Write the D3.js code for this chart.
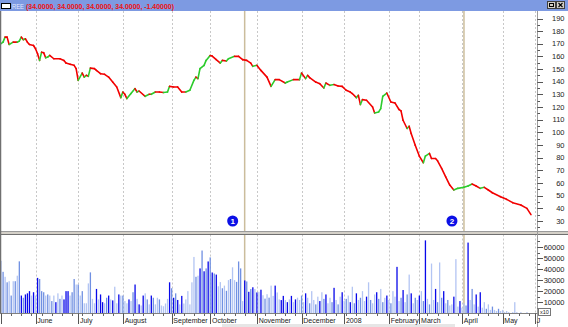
<!DOCTYPE html>
<html>
<head>
<script src="https://cdnjs.cloudflare.com/ajax/libs/d3/7.8.5/d3.min.js"></script>
<style>
  body { margin: 0; background: #fff; }
  svg text { font-family: "Liberation Sans", Arial, sans-serif; }
</style>
</head>
<body>
<div id="vis"></div>
<script>
// trading-day index of each read-off close, and the close itself
const priceDay = [0,1,2,3,4,6,8,9,10,11,12,13,14,16,17,18,19,20,21,22,23,24,26,29,31,32,34,36,37,38,40,41,42,43,44,46,47,49,51,53,55,57,59,60,61,62,64,66,67,68,71,73,74,76,78,80,82,83,85,87,89,91,93,95,96,97,98,100,101,103,104,106,108,109,111,112,115,117,119,121,123,124,126,128,131,133,135,137,140,141,144,147,148,150,151,152,155,157,159,160,162,164,166,168,170,172,173,175,176,177,178,180,183,184,186,187,188,190,192,194,196,197,198,200,201,202,204,206,208,209,211,212,214,215,217,219,221,223,225,228,230,232,234,236,238,240,242,246,249,252,256,259,261];
const priceClose = [170.1,171.3,175.3,175.3,169.5,171.3,171.3,172.1,175.3,173.2,174,171.3,169.5,168.7,166.1,162.2,156.9,163.4,163,159,159.5,160.8,158.2,158.2,156.9,154.8,153.8,153,150.4,141.1,146.9,143.7,145.1,144.3,150.8,150.4,149,146.4,145.9,143.7,139.8,135.9,127.5,131.9,130.1,126.7,130.7,134.6,131.9,132.7,128.5,130.1,130.1,131.9,131.9,131.5,131.9,136.4,135.9,135.9,131.9,131.9,133.3,141.1,143.7,142.5,150.4,153,156.9,160.8,160.3,157.5,154.8,156.9,156.4,158.2,160.1,160.1,157.5,156.9,154.8,152.2,153,149,143.7,136.4,141.7,141.7,139,139.8,141.7,141.7,146.9,142.5,145.1,143.3,139.8,138.5,135.1,139,137.2,137.8,136.7,136.4,133.3,131.9,130.7,127.5,129.3,122,125.9,125.4,120.1,115.4,116.2,118.8,128.5,131.1,124,123.3,118.1,117,109.6,103.1,104.9,99.1,89.9,81.3,76,81.3,83.4,79.4,79.4,77.6,71.6,64.9,58.4,54.5,55.8,56.6,57.6,59.2,57.6,55.8,56.6,54.5,52.3,49.2,47.1,44.5,42.6,40,35];

// daily volume in thousands, one per trading day
const volumeK = [
  47.5,37.5,33,28,29,16,29,29,34,47,
  16,14,17,18,20,16,19,16,32,31,
  20,19,16,17,16,11,16,10,18,13,
  16,12.5,20,20,16,19,31,26,26,16,
  20,9,9,27,37,13,9,22,12.5,17,
  10,9,14,16,12.5,11.6,24,9,17,16,
  16,11,9,12.5,11,19,26,13,8,7,
  16,18,12.5,8,16,14,8,
  14,12.5,7,6.3,8.8,13,28,22.6,14,18,
  12,8,15.7,8.8,12.5,20,8,28,51,33,
  34,40.6,56.8,38,40.6,46.9,50.6,36.9,36,35,
  24.4,28.2,22.6,25,20.3,30,31,41.6,30,28.4,
  46.9,40.6,11,29.7,28.8,19.4,21.9,23.5,21.9,18.8,
  19.4,21.3,16.3,13.2,17.2,14.1,25,15.7,25,18.8,
  12.5,11.9,15.7,11.9,10,12.5,15.7,10,12.5,14.1,
  12,16,10,18,14,9,20,12,8,15,
  11,19,13,17,9,14,10,23,12,8,
  15,19,11,13,16,10,24,9,18,12,
  14,20,11,15,28,12,9,17,19,13,
  22,10,14,16,12,9,20,15,42,11,
  14,21,10,17,35,18,9,14,12,16,
  20,11,66,13,8,45,12,22,10,46,
  14,20,9,12,7,8,15,49,6,11,
  5,9,7,64,12,22,8,17,6,19,
  5,10,4,8,3,6,3,2,4,2,
  3,1,2,1,0,1,10,1,0,1,
  0,0,1,0,0
];
// L = light, M = medium, D = dark blue bar
const volumeShade = [
  "LMLMLMLMLM","DMDDDLDLDM","MMLMLMLDLM","LDDDLMMLML","MLLLMLLDLD",
  "DLMDLDLLDL","MLLDLMDLDL","DLMLDML",
  "LMLLLLDMDM","DLDLLLLLLM","LDMDMDMDMD","LLMLMLMLLM","MMLDMDMDLD",
  "LDLMLMLLDL","LDDLDLDLDL","LMLDLMLLML","DLMDLLMDLM","LDLMLDLMDL",
  "MLLDLMLLDM","LMLDLMLLDL","MDLMLDLMLD","LMDLMLLDML","MDLMLLDLLD",
  "LLMDLMLDLD","LLMLLMLLML","LLLLLLLLLL","LLLLL"
].join("");

const monthDay = [17, 38, 60, 84, 103, 126, 148, 169, 191, 206, 227, 247, 263];
const monthLabels = ["June", "July", "August", "September", "October", "November", "December", "2008", "February", "March", "April", "May", "J"];
const priceTicks = d3.range(30, 191, 10);
const volumeTicks = [10000, 20000, 30000, 40000, 50000, 60000];
const markerDay = [120, 228];
const markerLabel = ["1", "2"];
const titleName = "REE";
const titleValues = "(34.0000, 34.0000, 34.0000, 34.0000, -1.40000)";

const W = 568, H = 327;
const axisX = 537.5;
const priceTop = 11, priceBottom = 231.5;
const volTop = 234.5, volBottom = 313.5;

const svg = d3.select("#vis").append("svg").attr("width", W).attr("height", H);

const x = d3.scaleLinear().domain([0, 262]).range([1, 533]);
const y = d3.scaleLinear().domain([30, 190]).range([221, 18.5]);
const yv = d3.scaleLinear().domain([0, 60000]).range([313.2, 247]);

// clip paths
svg.append("clipPath").attr("id", "cp").append("rect")
  .attr("x", 1).attr("y", priceTop).attr("width", axisX - 1).attr("height", priceBottom - priceTop);
svg.append("clipPath").attr("id", "cv").append("rect")
  .attr("x", 1).attr("y", volTop).attr("width", axisX - 1).attr("height", volBottom - volTop);

// month gridlines
[[priceTop, priceBottom], [volTop, volBottom]].forEach(([t, b]) => {
  svg.append("g").selectAll("line").data(monthDay).join("line")
    .attr("x1", d => Math.round(x(d)) + 0.5).attr("x2", d => Math.round(x(d)) + 0.5)
    .attr("y1", t).attr("y2", b)
    .attr("stroke", "#c8c8c8").attr("stroke-dasharray", "2,2");
});

// marker lines
svg.append("g").selectAll("line").data(markerDay).join("line")
  .attr("x1", d => x(d)).attr("x2", d => x(d))
  .attr("y1", priceTop).attr("y2", volBottom)
  .attr("stroke", "#cbbd9c").attr("stroke-width", 1.5);

// price line, green up / red down
const pts = priceDay.map((d, i) => ({ d, v: priceClose[i] }));
svg.append("g").attr("clip-path", "url(#cp)")
  .selectAll("line").data(d3.pairs(pts)).join("line")
  .attr("x1", s => x(s[0].d)).attr("y1", s => y(s[0].v))
  .attr("x2", s => x(s[1].d)).attr("y2", s => y(s[1].v))
  .attr("stroke", s => s[1].v > s[0].v ? "#2ccc2c" : "#f20000")
  .attr("stroke-width", 1.6).attr("stroke-linecap", "round");

// markers
const mk = svg.append("g").selectAll("g").data(markerDay).join("g")
  .attr("transform", d => `translate(${x(d) - 12},221)`);
mk.append("circle").attr("r", 5.5).attr("fill", "#0c10e6");
mk.append("text").text((d, i) => markerLabel[i])
  .attr("text-anchor", "middle").attr("dy", "0.35em")
  .attr("fill", "#fff").attr("font-size", 8).attr("font-weight", "bold");

// volume bars
const shadeColor = { L: "#b3c5f3", M: "#7090e2", D: "#0808ea" };
svg.append("g").attr("clip-path", "url(#cv)")
  .selectAll("rect").data(volumeK).join("rect")
  .attr("x", (d, i) => x(i) - 0.6).attr("width", 1.3)
  .attr("y", d => yv(d * 1000)).attr("height", d => yv(0) - yv(d * 1000))
  .attr("fill", (d, i) => shadeColor[volumeShade[i] || "L"]);

// panel separator
svg.append("rect").attr("x", 0).attr("y", 231.5).attr("width", W).attr("height", 3).attr("fill", "#d4d0c8");
svg.append("line").attr("x1", 0).attr("x2", W).attr("y1", 231.5).attr("y2", 231.5).attr("stroke", "#9a9a9a");
svg.append("line").attr("x1", 0).attr("x2", W).attr("y1", 234.5).attr("y2", 234.5).attr("stroke", "#707070");

// left border and right axis line
svg.append("line").attr("x1", 0.5).attr("x2", 0.5).attr("y1", priceTop).attr("y2", volBottom).attr("stroke", "#707070").attr("stroke-width", 1.5);
svg.append("line").attr("x1", axisX).attr("x2", axisX).attr("y1", priceTop).attr("y2", H).attr("stroke", "#9c9c9c");

// right axes
function rightAxis(scale, major, minor, top, bottom, fmt) {
  const g = svg.append("g");
  g.selectAll("line.mn").data(minor.filter(v => scale(v) > top + 2 && scale(v) < bottom - 1)).join("line")
    .attr("x1", axisX).attr("x2", axisX + 2.5)
    .attr("y1", v => Math.round(scale(v)) + 0.5).attr("y2", v => Math.round(scale(v)) + 0.5)
    .attr("stroke", "#555");
  g.selectAll("line.mj").data(major).join("line")
    .attr("x1", axisX).attr("x2", axisX + 5.5)
    .attr("y1", v => Math.round(scale(v)) + 0.5).attr("y2", v => Math.round(scale(v)) + 0.5)
    .attr("stroke", "#555");
  g.selectAll("text").data(major).join("text")
    .attr("x", 564.5).attr("y", v => scale(v)).attr("dy", "0.35em")
    .attr("text-anchor", "end").attr("font-size", 7.5).attr("fill", "#222")
    .text(fmt);
}
rightAxis(y, priceTicks, d3.range(25, 195, 5), priceTop, priceBottom, d => d);
rightAxis(yv, volumeTicks, d3.range(5000, 70000, 5000), volTop, volBottom, d => d);

// x10 box
svg.append("rect").attr("x", 538.5).attr("y", 308.5).attr("width", 12).attr("height", 7)
  .attr("fill", "#fff").attr("stroke", "#777");
svg.append("text").attr("x", 544.5).attr("y", 314.3).attr("text-anchor", "middle")
  .attr("font-size", 5.5).attr("fill", "#222").text("x10");

// date axis
svg.append("line").attr("x1", 0).attr("x2", axisX).attr("y1", volBottom).attr("y2", volBottom).attr("stroke", "#808080");
svg.append("rect").attr("x", 222).attr("y", 324).attr("width", 233).attr("height", 3).attr("fill", "#e6e6e6");
svg.append("g").selectAll("line").data(d3.range(0, 263, 5)).join("line")
  .attr("x1", d => Math.round(x(d)) + 0.5).attr("x2", d => Math.round(x(d)) + 0.5)
  .attr("y1", volBottom).attr("y2", volBottom + 2.5).attr("stroke", "#666");
svg.append("g").selectAll("line").data([0].concat(monthDay)).join("line")
  .attr("x1", d => Math.round(x(d)) + 0.5).attr("x2", d => Math.round(x(d)) + 0.5)
  .attr("y1", volBottom).attr("y2", 324).attr("stroke", "#555");
svg.append("g").selectAll("text").data(monthDay).join("text")
  .attr("x", d => x(d) + 1.8).attr("y", 322.5)
  .attr("font-size", 7).attr("fill", "#222")
  .text((d, i) => monthLabels[i]);

// title bar
svg.append("rect").attr("x", 0).attr("y", 0).attr("width", W).attr("height", 11).attr("fill", "#7d9ae2");
svg.append("rect").attr("x", 1.5).attr("y", 3.5).attr("width", 9).attr("height", 5).attr("fill", "#fff").attr("stroke", "#000");
svg.append("text").attr("x", 12).attr("y", 8.5).attr("font-size", 6.5)
  .attr("fill", "#e4eaff").attr("textLength", 12).attr("lengthAdjust", "spacingAndGlyphs").text(titleName);
svg.append("text").attr("x", 26).attr("y", 8.5).attr("font-size", 7.5).attr("font-weight", "bold")
  .attr("fill", "#f01010").attr("textLength", 148).attr("lengthAdjust", "spacingAndGlyphs").text(titleValues);
[547, 556].forEach(bx => {
  svg.append("rect").attr("x", bx + 0.5).attr("y", 1.5).attr("width", 8).attr("height", 7)
    .attr("fill", "#d4d0c8").attr("stroke", "#404040");
});
svg.append("rect").attr("x", 549.5).attr("y", 3.5).attr("width", 4).attr("height", 3).attr("fill", "none").attr("stroke", "#000");
svg.append("path").attr("d", "M558.5,3 L562.5,7 M562.5,3 L558.5,7").attr("stroke", "#000").attr("stroke-width", 1.1);
</script>
</body>
</html>
